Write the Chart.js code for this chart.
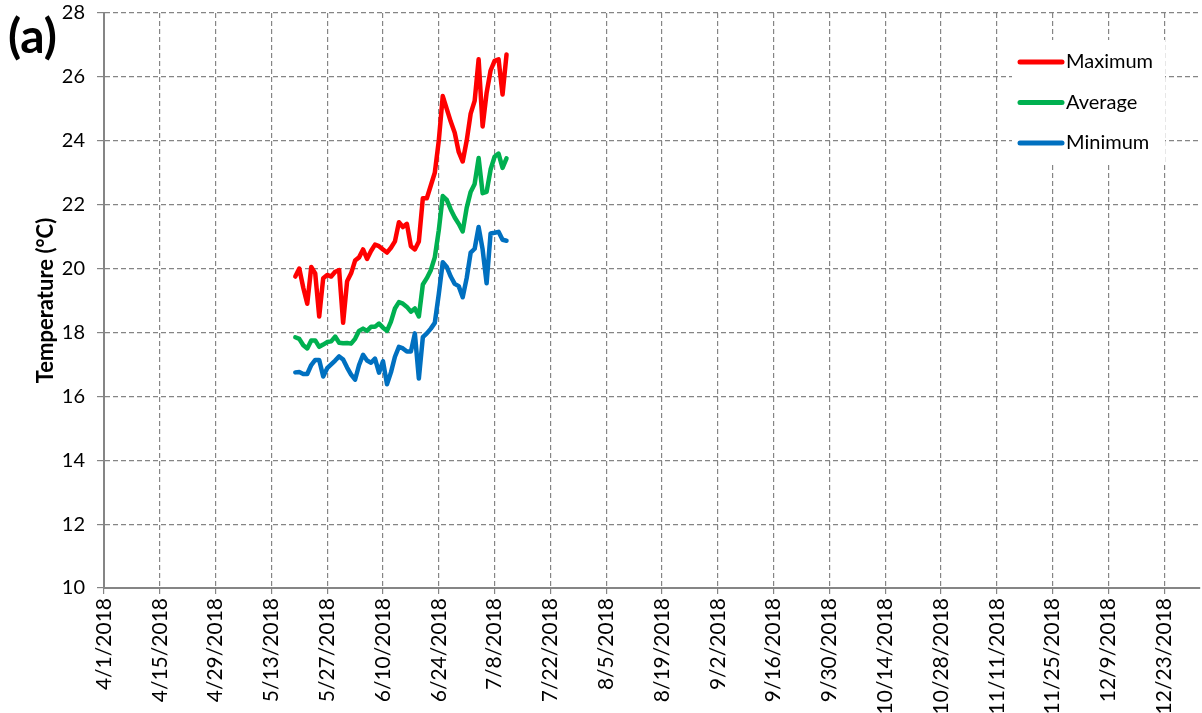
<!DOCTYPE html>
<html>
<head>
<meta charset="utf-8">
<title>Temperature</title>
<script src="https://cdn.jsdelivr.net/npm/chart.js@4.4.0/dist/chart.umd.min.js"></script>
<style>
  html, body { margin: 0; padding: 0; background: #fff; }
  #wrap { position: relative; width: 1202px; height: 713px; }
  #panelTag { position: absolute; left: 8px; top: 9px; font: bold 48px Lato, sans-serif; color: #000; line-height: 1.1; }
</style>
</head>
<body>
<div id="wrap">
  <canvas id="tempChart" width="1202" height="713"></canvas>
  <div id="panelTag">(a)</div>
</div>
<script>
// daily series, first day below
const firstDay = '5/19/2018';
const axisStart = '4/1/2018';
const axisEnd = '1/1/2019';

const maxTemps = [19.75, 20.0, 19.4, 18.9, 20.05, 19.85, 18.5, 19.7, 19.8, 19.75,
  19.9, 19.95, 18.3, 19.6, 19.85, 20.25, 20.35, 20.6, 20.3, 20.55,
  20.75, 20.7, 20.6, 20.5, 20.65, 20.85, 21.45, 21.3, 21.4, 20.7,
  20.6, 20.85, 22.2, 22.2, 22.6, 23.0, 24.0, 25.4, 25.0, 24.6,
  24.25, 23.65, 23.35, 24.0, 24.85, 25.25, 26.55, 24.45, 25.5, 26.2,
  26.5, 26.55, 25.45, 26.7];
const avgTemps = [17.85, 17.8, 17.6, 17.5, 17.75, 17.75, 17.55, 17.62, 17.7, 17.72,
  17.87, 17.68, 17.66, 17.67, 17.65, 17.8, 18.05, 18.12, 18.05, 18.18,
  18.18, 18.28, 18.15, 18.05, 18.34, 18.75, 18.95, 18.9, 18.8, 18.65,
  18.75, 18.5, 19.5, 19.7, 19.95, 20.35, 21.2, 22.27, 22.15, 21.85,
  21.6, 21.4, 21.16, 21.9, 22.4, 22.65, 23.46, 22.36, 22.4, 23.1,
  23.5, 23.6, 23.15, 23.45];
const minTemps = [16.75, 16.76, 16.7, 16.7, 16.98, 17.14, 17.14, 16.62, 16.88, 17.0,
  17.12, 17.25, 17.15, 16.9, 16.68, 16.52, 16.98, 17.3, 17.12, 17.05,
  17.18, 16.74, 17.1, 16.38, 16.75, 17.24, 17.55, 17.5, 17.4, 17.4,
  17.97, 16.56, 17.85, 17.97, 18.12, 18.3, 19.2, 20.2, 20.05, 19.75,
  19.52, 19.45, 19.1, 19.7, 20.5, 20.62, 21.3, 20.6, 19.54, 21.1,
  21.12, 21.15, 20.9, 20.87];

const tickLabels = ['4/1/2018', '4/15/2018', '4/29/2018', '5/13/2018', '5/27/2018',
  '6/10/2018', '6/24/2018', '7/8/2018', '7/22/2018', '8/5/2018', '8/19/2018',
  '9/2/2018', '9/16/2018', '9/30/2018', '10/14/2018', '10/28/2018', '11/11/2018',
  '11/25/2018', '12/9/2018', '12/23/2018'];
const yTicks = [10, 12, 14, 16, 18, 20, 22, 24, 26, 28];

const seriesNames = ['Maximum', 'Average', 'Minimum'];
const seriesColors = ['#FF0000', '#00B050', '#0070C0'];

// m/d/yyyy -> days since axisStart
function dayOf(str) {
  const [m, d, y] = str.split('/').map(Number);
  const [m0, d0, y0] = axisStart.split('/').map(Number);
  return Math.round((Date.UTC(y, m - 1, d) - Date.UTC(y0, m0 - 1, d0)) / 86400000);
}

const start = dayOf(firstDay);
const toPoints = arr => arr.map((v, i) => ({ x: start + i, y: v }));
const tickDays = tickLabels.map(dayOf);

const FONT = 'Lato, "Open Sans", sans-serif';
const gridGrey = '#858585';

// legend inside the plot, on white
const legendBox = {
  id: 'legendBox',
  afterDraw(chart) {
    const ctx = chart.ctx;
    ctx.save();
    ctx.fillStyle = '#fff';
    ctx.fillRect(1012, 40, 153, 122);
    chart.data.datasets.forEach((ds, i) => {
      const y = 62 + i * 40.5;
      ctx.strokeStyle = ds.borderColor;
      ctx.lineWidth = 5;
      ctx.lineCap = 'round';
      ctx.beginPath();
      ctx.moveTo(1020, y);
      ctx.lineTo(1062, y);
      ctx.stroke();
      ctx.fillStyle = '#000';
      ctx.font = '20px ' + FONT;
      ctx.textBaseline = 'middle';
      ctx.fillText(ds.label, 1066, y);
    });
    ctx.restore();
  }
};

const series = [maxTemps, avgTemps, minTemps];

new Chart(document.getElementById('tempChart'), {
  type: 'line',
  data: {
    datasets: series.map((arr, i) => ({
      label: seriesNames[i],
      data: toPoints(arr),
      borderColor: seriesColors[i],
      backgroundColor: seriesColors[i],
      borderWidth: 4.5,
      pointRadius: 0,
      tension: 0,
      borderJoinStyle: 'round',
      borderCapStyle: 'round',
      fill: false
    }))
  },
  options: {
    responsive: false,
    animation: false,
    devicePixelRatio: 1,
    layout: { padding: { top: 13, right: 2, left: 0, bottom: 0 } },
    plugins: {
      legend: { display: false },
      tooltip: { enabled: false }
    },
    scales: {
      x: {
        type: 'linear',
        min: dayOf(axisStart),
        max: dayOf(axisEnd),
        afterBuildTicks: axis => { axis.ticks = tickDays.map(v => ({ value: v })); },
        afterFit: scale => { scale.height = 125; },
        ticks: {
          autoSkip: false,
          minRotation: 90,
          maxRotation: 90,
          padding: 4,
          color: '#000',
          font: { family: FONT, size: 21 },
          callback: v => tickLabels[tickDays.indexOf(v)]
        },
        grid: { color: gridGrey, lineWidth: 1.2, tickLength: 6, tickColor: gridGrey },
        border: { color: gridGrey, width: 2, dash: [5, 3] }
      },
      y: {
        min: yTicks[0],
        max: yTicks[yTicks.length - 1],
        afterBuildTicks: axis => { axis.ticks = yTicks.map(v => ({ value: v })); },
        afterFit: scale => {
          scale.width = 104;
          scale.paddingTop = 0;
          scale.paddingBottom = 0;
        },
        ticks: {
          padding: 12,
          color: '#000',
          font: { family: FONT, size: 20 }
        },
        title: {
          display: true,
          text: 'Temperature (°C)',
          color: '#000',
          font: { family: FONT, size: 22, weight: 'bold' },
          padding: { top: 33, bottom: 6 }
        },
        grid: { color: gridGrey, lineWidth: 1.2, tickLength: 7, tickColor: gridGrey },
        border: { color: gridGrey, width: 2, dash: [5, 3] }
      }
    }
  },
  plugins: [legendBox]
});
</script>
</body>
</html>
